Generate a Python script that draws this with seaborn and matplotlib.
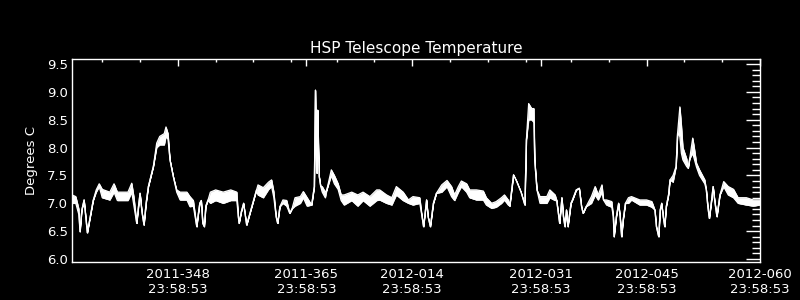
import matplotlib
matplotlib.use("Agg")
import matplotlib.pyplot as plt
from matplotlib.ticker import MultipleLocator
import seaborn as sns
import pandas as pd

# x: days since 2011-334 23:58:53
days = [0.0, 0.5, 0.9, 1.06, 1.3, 1.6, 2.03, 2.4, 2.8, 3.2, 3.6, 4.0, 5.0, 5.56, 6.0, 7.4, 7.9,
        8.2, 8.56, 8.8, 9.0, 9.25, 9.52, 9.8, 10.1, 10.76, 11.2, 11.6, 12.2, 12.43, 12.7, 12.96,
        13.4, 13.85, 14.3, 15.2, 15.6, 16.05, 16.5, 16.7, 16.9, 17.1, 17.3, 17.5, 17.7, 18.0,
        18.3, 19.0, 20.0, 21.0, 21.8, 22.0, 22.1, 22.4, 22.7, 22.9, 23.1, 24.4, 24.6, 25.3,
        26.0, 26.4, 26.7, 27.0, 27.2, 27.5, 27.9, 28.4, 28.8, 29.1, 29.5, 30.2, 30.6, 31.1,
        31.7, 32.05, 32.2, 32.3, 32.4, 32.5, 32.6, 32.7, 32.9, 33.1, 33.5, 33.7, 34.3, 34.7,
        35.2, 35.6, 36.0, 37.0, 37.8, 38.5, 39.4, 40.3, 40.7, 41.6, 42.3, 42.9, 43.8, 44.5,
        45.1, 46.0, 46.3, 46.5, 46.9, 47.1, 47.4, 47.8, 48.2, 48.9, 49.6, 50.2, 50.6, 51.1,
        51.5, 52.2, 52.6, 53.5, 54.4, 54.8, 55.5, 56.1, 56.8, 57.2, 57.7, 57.9, 58.4, 58.8,
        59.4, 59.9, 60.1, 60.4, 60.8, 61.1, 61.2, 61.5, 61.9, 62.8, 63.2, 63.9, 64.1, 64.5,
        64.8, 65.0, 65.2, 65.4, 65.6, 66.0, 66.2, 66.7, 67.1, 67.4, 67.6, 68.0, 68.7, 69.2,
        69.6, 70.1, 70.3, 70.7, 71.4, 71.6, 71.7, 72.0, 72.3, 72.5, 72.7, 72.9, 73.2, 73.6,
        74.0, 75.1, 76.0, 76.7, 77.1, 77.3, 77.6, 77.8, 78.0, 78.2, 78.4, 78.6, 78.9, 79.1,
        79.5, 79.9, 80.1, 80.4, 80.6, 80.8, 81.3, 81.5, 81.7, 82.1, 82.3, 82.6, 83.0, 83.7,
        83.9, 84.1, 84.3, 84.6, 84.8, 85.0, 85.3, 85.7, 86.2, 86.8, 87.5, 88.1, 89.2, 90.1, 91.0]

temp_lo = [7.0, 7.0, 6.8, 6.49, 6.88, 7.06, 6.47, 6.75, 7.05, 7.2, 7.3, 7.1, 7.06, 7.2, 7.05, 7.05, 7.2,
           6.95, 6.64, 6.95, 7.18, 6.85, 6.61, 7.0, 7.3, 7.66, 8.0, 8.05, 8.05, 8.2, 8.15, 7.78,
           7.48, 7.2, 7.06, 7.06, 6.94, 6.95, 6.58, 6.8, 7.0, 7.05, 6.64, 6.58, 6.95, 7.06,
           7.0, 7.05, 7.0, 7.05, 7.05, 6.76, 6.64, 6.85, 7.0, 6.8, 6.61, 7.24, 7.15, 7.1,
           7.25, 7.3, 7.1, 6.76, 6.64, 6.94, 7.0, 6.95, 6.82, 6.9, 6.95, 7.0, 7.1, 6.95,
           6.97, 7.3, 9.03, 8.0, 7.54, 8.67, 8.0, 7.48, 7.3, 7.2, 7.1, 7.24, 7.5, 7.35,
           7.25, 7.05, 6.97, 7.05, 6.95, 7.05, 6.95, 7.05, 7.06, 7.0, 6.97, 7.15, 7.05, 7.0,
           6.97, 7.0, 6.76, 6.58, 7.06, 6.76, 6.58, 7.0, 7.18, 7.2, 7.3, 7.12, 7.05, 7.2,
           7.3, 7.2, 7.1, 7.06, 7.06, 6.97, 6.91, 6.93, 7.0, 7.06, 6.97, 6.95, 7.51, 7.4,
           7.2, 6.97, 8.14, 8.5, 8.5, 8.45, 7.78, 7.24, 7.0, 7.0, 7.1, 7.05, 7.06, 6.64,
           7.1, 6.76, 6.58, 6.88, 6.58, 7.0, 7.06, 7.24, 7.27, 6.94, 6.82, 6.94, 7.0, 7.15,
           7.06, 7.2, 7.06, 6.97, 6.93, 6.76, 6.4, 6.76, 7.0, 6.76, 6.4, 6.7, 7.0, 7.0,
           7.06, 6.97, 6.97, 6.93, 6.88, 6.58, 6.4, 6.88, 7.0, 6.76, 6.58, 6.94, 7.15, 7.42,
           7.38, 7.66, 8.26, 8.2, 7.9, 7.78, 7.66, 7.63, 7.8, 7.9, 7.8, 7.65, 7.5, 7.35,
           7.24, 6.94, 6.73, 7.06, 7.3, 7.06, 6.76, 7.15, 7.3, 7.15, 7.1, 7.0, 6.97, 6.95, 6.97]

temp_hi = [7.15, 7.12, 6.9, 6.49, 6.88, 7.06, 6.47, 6.75, 7.05, 7.24, 7.35, 7.25, 7.2, 7.35, 7.2, 7.2, 7.36,
           7.1, 6.64, 6.95, 7.18, 6.85, 6.61, 7.0, 7.3, 7.66, 8.08, 8.2, 8.25, 8.37, 8.25, 7.78,
           7.48, 7.24, 7.2, 7.2, 7.12, 7.05, 6.58, 6.8, 7.0, 7.05, 6.64, 6.58, 6.95, 7.06,
           7.2, 7.24, 7.2, 7.24, 7.2, 6.76, 6.64, 6.85, 7.0, 6.8, 6.61, 7.24, 7.33, 7.28,
           7.38, 7.42, 7.2, 6.76, 6.64, 6.94, 7.06, 7.05, 6.82, 6.9, 7.1, 7.12, 7.21, 7.1,
           6.97, 7.3, 9.03, 8.0, 7.54, 8.67, 8.0, 7.48, 7.3, 7.3, 7.2, 7.24, 7.6, 7.5,
           7.35, 7.15, 7.15, 7.2, 7.15, 7.2, 7.12, 7.24, 7.24, 7.15, 7.1, 7.3, 7.2, 7.06,
           7.12, 7.1, 6.76, 6.58, 7.06, 6.76, 6.58, 7.0, 7.18, 7.33, 7.41, 7.3, 7.15, 7.3,
           7.4, 7.35, 7.24, 7.24, 7.22, 7.1, 7.0, 7.03, 7.1, 7.15, 7.06, 6.95, 7.51, 7.4,
           7.2, 6.97, 8.14, 8.79, 8.7, 8.7, 7.78, 7.24, 7.12, 7.12, 7.24, 7.15, 7.06, 6.64,
           7.1, 6.76, 6.58, 6.88, 6.58, 7.0, 7.06, 7.24, 7.27, 6.94, 6.82, 6.94, 7.12, 7.3,
           7.15, 7.33, 7.06, 7.06, 7.03, 6.76, 6.4, 6.76, 7.0, 6.76, 6.4, 6.7, 7.0, 7.1,
           7.12, 7.06, 7.06, 7.03, 6.88, 6.58, 6.4, 6.88, 7.0, 6.76, 6.58, 6.94, 7.15, 7.42,
           7.5, 7.66, 8.26, 8.73, 8.4, 8.0, 7.8, 7.63, 7.8, 8.17, 8.0, 7.72, 7.6, 7.42,
           7.24, 6.94, 6.73, 7.06, 7.3, 7.06, 6.76, 7.15, 7.39, 7.3, 7.25, 7.1, 7.1, 7.06, 7.06]

major_days = [14, 31, 45, 62, 76, 91]
major_labels = ["2011-348\n23:58:53", "2011-365\n23:58:53", "2012-014\n23:58:53",
                "2012-031\n23:58:53", "2012-045\n23:58:53", "2012-060\n23:58:53"]
minor_days = [4, 9, 19, 24, 29, 35, 40, 50, 55, 60, 66, 71, 81, 86]
y_ticks = [6.0, 6.5, 7.0, 7.5, 8.0, 8.5, 9.0, 9.5]
y_labels = ["6.0", "6.5", "7.0", "7.5", "8.0", "8.5", "9.0", "9.5"]

df = pd.DataFrame({"day": days, "lo": temp_lo, "hi": temp_hi})

sns.set_theme(style="dark")
plt.rcParams["font.family"] = ["DejaVu Sans"]

fig = plt.figure(figsize=(8, 3), dpi=100, facecolor="black")
ax = fig.add_axes([0.09, 0.12667, 0.86, 0.67667])
ax.set_facecolor("black")

ax.fill_between(df["day"], df["lo"], df["hi"], color="white", linewidth=0.4)
sns.lineplot(data=df, x="day", y="lo", ax=ax, color="white", linewidth=0.9, estimator=None)
sns.lineplot(data=df, x="day", y="hi", ax=ax, color="white", linewidth=0.9, estimator=None)

ax.set_xlim(0, 91)
ax.set_ylim(5.946, 9.59)
ax.set_xticks(major_days)
ax.set_xticklabels(major_labels)
ax.set_xticks(minor_days, minor=True)
ax.set_yticks(y_ticks)
ax.set_yticklabels(y_labels)
ax.yaxis.set_minor_locator(MultipleLocator(0.1))

for s in ax.spines.values():
    s.set_color("white")
    s.set_linewidth(1.0)
    s.set_visible(True)

ax.grid(False)
ax.tick_params(which="both", direction="in", top=True, right=True, colors="white",
               labelcolor="white", width=1.0)
ax.tick_params(axis="x", which="major", length=5, pad=4, labelsize=9.5)
ax.tick_params(axis="x", which="minor", length=2.5)
ax.tick_params(axis="y", which="major", length=10, pad=3, labelsize=9.5)
ax.tick_params(axis="y", which="minor", length=5.5)

ax.set_xlabel("")
ax.set_ylabel("Degrees C", color="white", fontsize=9.5, labelpad=6)
ax.set_title("HSP Telescope Temperature", color="white", fontsize=11, pad=4)

fig.savefig("out.png", dpi=100, facecolor="black")
